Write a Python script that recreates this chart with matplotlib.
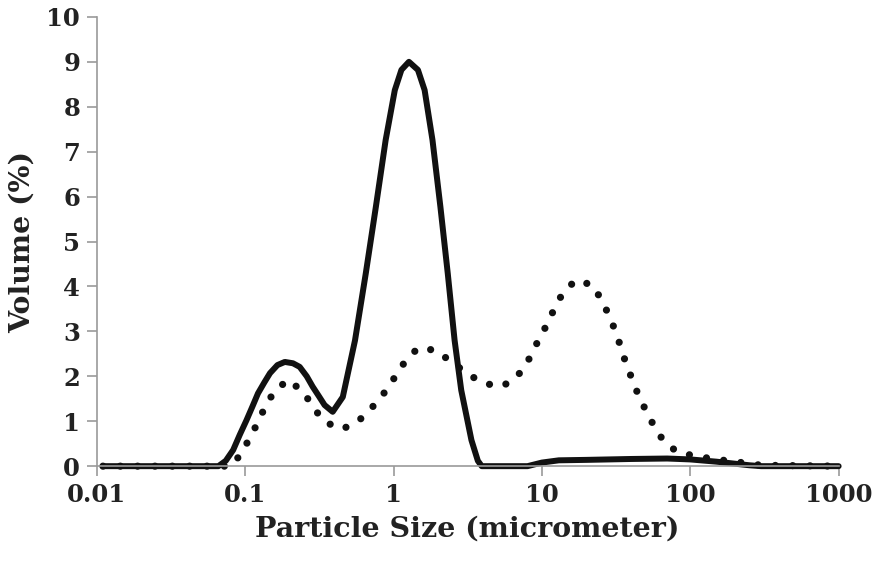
import matplotlib.pyplot as plt

# particle size distribution
solid_x = [0.011, 0.066, 0.074, 0.083, 0.092, 0.102, 0.112, 0.122, 0.135, 0.147,
           0.165, 0.185, 0.21, 0.233, 0.26, 0.285, 0.315, 0.343, 0.389, 0.455,
           0.55, 0.65, 0.76, 0.885, 1.02, 1.13, 1.27, 1.46, 1.62, 1.83,
           2.07, 2.32, 2.58, 2.86, 3.35, 3.7, 3.93, 8.0, 10.0, 13.0,
           20.0, 40.0, 70.0, 100.0, 150.0, 250.0, 300.0, 1000.0]
solid_y = [0, 0, 0.12, 0.36, 0.7, 1.02, 1.33, 1.62, 1.87, 2.07,
           2.25, 2.32, 2.29, 2.21, 2.0, 1.77, 1.55, 1.36, 1.21, 1.54,
           2.80, 4.29, 5.77, 7.26, 8.37, 8.82, 9.0, 8.82, 8.37, 7.26,
           5.77, 4.29, 2.80, 1.69, 0.58, 0.12, 0, 0, 0.08, 0.13,
           0.14, 0.16, 0.17, 0.15, 0.1, 0.02, 0, 0]

dot_x = [0.011, 0.08, 0.089, 0.104, 0.119, 0.135, 0.156, 0.194, 0.248, 0.285,
         0.343, 0.446, 0.57, 0.71, 0.86, 1.02, 1.19, 1.46, 1.92, 2.46,
         3.11, 3.99, 5.36, 6.76, 8.0, 9.2, 10.6, 12.0, 13.8, 16.9,
         22.0, 25.7, 29.1, 32.4, 35.1, 39.1, 43.6, 49.3, 56.6, 66.0,
         82.0, 110.0, 150.0, 200.0, 300.0, 1000.0]
dot_y = [0, 0, 0.18, 0.54, 0.91, 1.29, 1.65, 1.92, 1.65, 1.32,
         0.99, 0.82, 0.98, 1.29, 1.62, 1.98, 2.32, 2.63, 2.58, 2.32,
         2.07, 1.85, 1.77, 1.98, 2.32, 2.72, 3.10, 3.47, 3.85, 4.14,
         4.03, 3.65, 3.27, 2.87, 2.49, 2.07, 1.67, 1.29, 0.91, 0.56,
         0.31, 0.22, 0.15, 0.1, 0.02, 0]

x_ticks = [0.01, 0.1, 1, 10, 100, 1000]
x_labels = ["0.01", "0.1", "1", "10", "100", "1000"]
y_ticks = list(range(0, 11))

plt.rcParams["font.family"] = ["DejaVu Serif"]
plt.rcParams["font.weight"] = "bold"

fig = plt.figure(figsize=(8.8, 5.63), dpi=100)
ax = fig.add_axes([0.110, 0.172, 0.843, 0.798])

ax.plot(dot_x, dot_y, color="#111111", lw=5.2, linestyle=(0, (0.001, 2.4)),
        dash_capstyle="round", solid_capstyle="round", clip_on=False)
ax.plot(solid_x, solid_y, color="#111111", lw=4.3, solid_joinstyle="round",
        solid_capstyle="round", clip_on=False)

ax.set_xscale("log")
ax.set_xlim(0.01, 1000)
ax.set_ylim(0, 10)
ax.set_xticks(x_ticks)
ax.set_xticklabels(x_labels)
ax.set_yticks(y_ticks)
ax.minorticks_off()

for side in ["top", "right"]:
    ax.spines[side].set_visible(False)
for side in ["left", "bottom"]:
    ax.spines[side].set_color("#9a9a9a")
    ax.spines[side].set_linewidth(1.2)
ax.tick_params(axis="both", direction="out", length=7, width=1.2,
               color="#9a9a9a", labelsize=17.5, labelcolor="#222222", pad=5)

ax.set_xlabel("Particle Size (micrometer)", fontsize=20.5, fontweight="bold",
              color="#222222", labelpad=6)
ax.set_ylabel("Volume (%)", fontsize=20.5, fontweight="bold",
              color="#222222", labelpad=8)

fig.savefig("out.png", dpi=100)
